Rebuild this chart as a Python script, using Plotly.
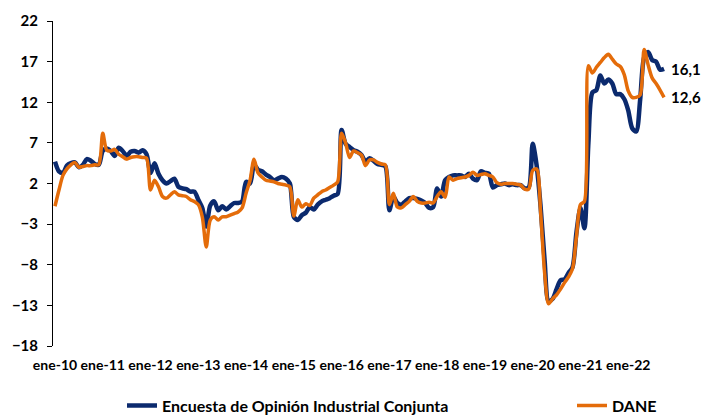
import plotly.graph_objects as go
import pandas as pd

# Monthly categories: ene-2010 .. oct-2022
meses = pd.date_range("2010-01-01", periods=154, freq="MS")

encuesta = [
    4.7, 3.5, 3.3, 4.2, 4.5, 4.6, 4.0, 4.3, 5.0, 4.8, 4.4, 4.3,        # 2010
    6.0, 6.3, 6.0, 5.4, 6.4, 6.0, 5.4, 5.9, 6.0, 5.8, 6.1, 5.6,        # 2011
    3.3, 4.5, 3.2, 2.4, 2.0, 2.3, 2.6, 1.6, 1.4, 1.3, 1.0, 1.0,        # 2012
    0.0, -1.0, -3.3, -0.7, -0.2, -1.3, -0.8, -1.2, -0.8, -0.4, -0.4, -0.2,  # 2013
    2.2, 2.0, 4.3, 3.7, 3.5, 3.1, 2.8, 2.4, 2.6, 2.8, 2.6, 2.0,        # 2014
    -2.1, -2.5, -1.9, -1.6, -0.9, -1.2, -0.6, -0.2, 0.0, 0.2, 0.5, 0.7,  # 2015
    8.6, 6.9, 6.5, 6.1, 5.9, 5.5, 4.7, 5.1, 4.8, 4.4, 4.3, 4.1,        # 2016
    -1.3, 0.4, -0.4, -0.6, -0.2, 0.2, 0.2, 0.1, -0.1, -0.4, -1.0, -0.9,  # 2017
    1.4, 0.4, 2.4, 2.8, 3.0, 3.0, 3.0, 2.8, 3.2, 2.6, 2.4, 3.5,        # 2018
    3.3, 3.2, 1.5, 1.8, 1.9, 2.0, 1.8, 1.9, 1.8, 1.8, 1.4, 1.5,        # 2019
    6.9, 4.2, -0.9, -7.5, -12.5, -12.2, -11.0, -9.9, -9.8, -9.0, -8.3, -4.0,  # 2020
    -1.0, -3.5, 7.0, 13.2, 13.5, 15.3, 14.3, 14.8, 14.3, 13.0, 13.0, 12.4,  # 2021
    11.0, 8.8, 8.4, 12.3, 17.5, 18.2, 17.2, 17.0, 16.0, 16.1,          # 2022
]

dane = [
    -0.8, 1.2, 3.0, 3.8, 4.3, 4.6, 4.0, 4.1, 4.2, 4.2, 4.3, 4.3,       # 2010
    8.2, 6.1, 6.0, 6.2, 5.6, 5.3, 5.0, 5.2, 5.3, 5.3, 5.2, 5.1,        # 2011
    1.2, 2.4, 1.6, 0.4, 0.2, 0.6, 1.0, 0.6, 0.5, 0.4, 0.0, -0.2,       # 2012
    -0.6, -2.1, -5.8, -2.5, -2.1, -2.5, -2.1, -2.1, -1.9, -1.7, -1.5, -1.0,  # 2013
    0.8, 2.4, 5.0, 3.3, 2.8, 2.4, 2.3, 2.2, 2.0, 1.9, 1.8, 1.6,        # 2014
    -2.0, 0.0, -0.9, -0.5, -0.7, 0.2, 0.6, 1.0, 1.2, 1.5, 1.8, 2.2,    # 2015
    8.2, 7.0, 5.2, 6.0, 5.8, 5.5, 4.2, 4.9, 4.9, 4.6, 4.4, 4.3,        # 2016
    -0.6, 0.8, -0.9, -1.0, -0.6, -0.2, 0.4, -0.2, -0.4, -0.4, -0.3, -0.4,  # 2017
    0.4, 1.0, 0.3, 2.8, 2.4, 2.6, 2.7, 2.8, 3.0, 3.4, 3.0, 3.1,        # 2018
    3.2, 3.0, 2.8, 2.1, 1.9, 2.0, 2.0, 2.0, 1.9, 1.8, 1.3, 1.3,        # 2019
    3.6, 3.8, -1.6, -9.0, -12.8, -12.2, -11.7, -11.0, -10.2, -9.5, -8.5, -4.5,  # 2020
    -0.6, -0.2, 16.5, 15.6, 16.3, 16.9, 17.5, 17.9, 17.3, 16.7, 16.4, 15.4,  # 2021
    13.4, 12.6, 12.6, 12.9, 18.5, 16.6, 15.0, 14.3, 13.5, 12.6,        # 2022
]

tick_labels = ["ene-10", "ene-11", "ene-12", "ene-13", "ene-14", "ene-15", "ene-16",
               "ene-17", "ene-18", "ene-19", "ene-20", "ene-21", "ene-22"]
y_ticks = [-18, -13, -8, -3, 2, 7, 12, 17, 22]

NAVY = "#0B2A6E"
ORANGE = "#E46C0A"
FONT = "Lato"

x = list(range(len(meses)))
n_cat = 156  # 13 years of monthly categories on the axis

fig = go.Figure()
fig.add_trace(go.Scatter(
    x=x, y=encuesta, mode="lines", name="Encuesta de Opinión Industrial Conjunta",
    line=dict(color=NAVY, width=4.5, shape="spline", smoothing=0.8),
    text=[m.strftime("%b-%y") for m in meses], hoverinfo="text+y", legend="legend",
))
fig.add_trace(go.Scatter(
    x=x, y=dane, mode="lines", name="DANE",
    line=dict(color=ORANGE, width=3.5, shape="spline", smoothing=0.8),
    text=[m.strftime("%b-%y") for m in meses], hoverinfo="text+y", legend="legend2",
))

def fmt(v):
    return f"{v:.1f}".replace(".", ",")

for serie in (encuesta, dane):
    fig.add_annotation(x=x[-1], y=serie[-1], text=fmt(serie[-1]), showarrow=False,
                       xanchor="left", xshift=5,
                       font=dict(family=FONT, size=15, color="black", weight="bold"))

legend_font = dict(family=FONT, size=16, color="black", weight="bold")
rng = [-0.5, n_cat - 0.5]
fig.update_layout(
    width=707, height=419,
    margin=dict(l=53, r=33, t=21, b=73, autoexpand=False),
    paper_bgcolor="white", plot_bgcolor="white",
    showlegend=True,
    legend=dict(orientation="h", xref="container", yref="container",
                x=122 / 707, y=0.032, xanchor="left", yanchor="middle",
                font=legend_font, bgcolor="rgba(0,0,0,0)"),
    legend2=dict(orientation="h", xref="container", yref="container",
                 x=572 / 707, y=0.032, xanchor="left", yanchor="middle",
                 font=legend_font, bgcolor="rgba(0,0,0,0)"),
    xaxis=dict(range=rng, tickvals=[12 * k for k in range(len(tick_labels))], ticktext=tick_labels,
               showline=False, ticks="", showgrid=False, zeroline=False, tickangle=0,
               ticklabelstandoff=9, automargin=False,
               tickfont=dict(family=FONT, size=14, color="black", weight="bold")),
    xaxis2=dict(range=rng, overlaying="x", anchor="free", position=18 / 40,
                tickvals=[12 * k - 0.5 for k in range(len(tick_labels) + 1)],
                showticklabels=False, showline=True, linecolor="black", linewidth=1,
                ticks="outside", ticklen=4, tickcolor="black", showgrid=False, zeroline=False),
    yaxis=dict(range=[-18, 22], tickvals=y_ticks, showline=True, linecolor="black", linewidth=1,
               ticks="outside", ticklen=5, tickcolor="black", showgrid=False, zeroline=False,
               ticklabelstandoff=6, automargin=False,
               tickfont=dict(family=FONT, size=15, color="black", weight="bold")),
)

fig.write_html("out.html", config={"displayModeBar": False},
               post_script="document.body.style.margin='0';")
